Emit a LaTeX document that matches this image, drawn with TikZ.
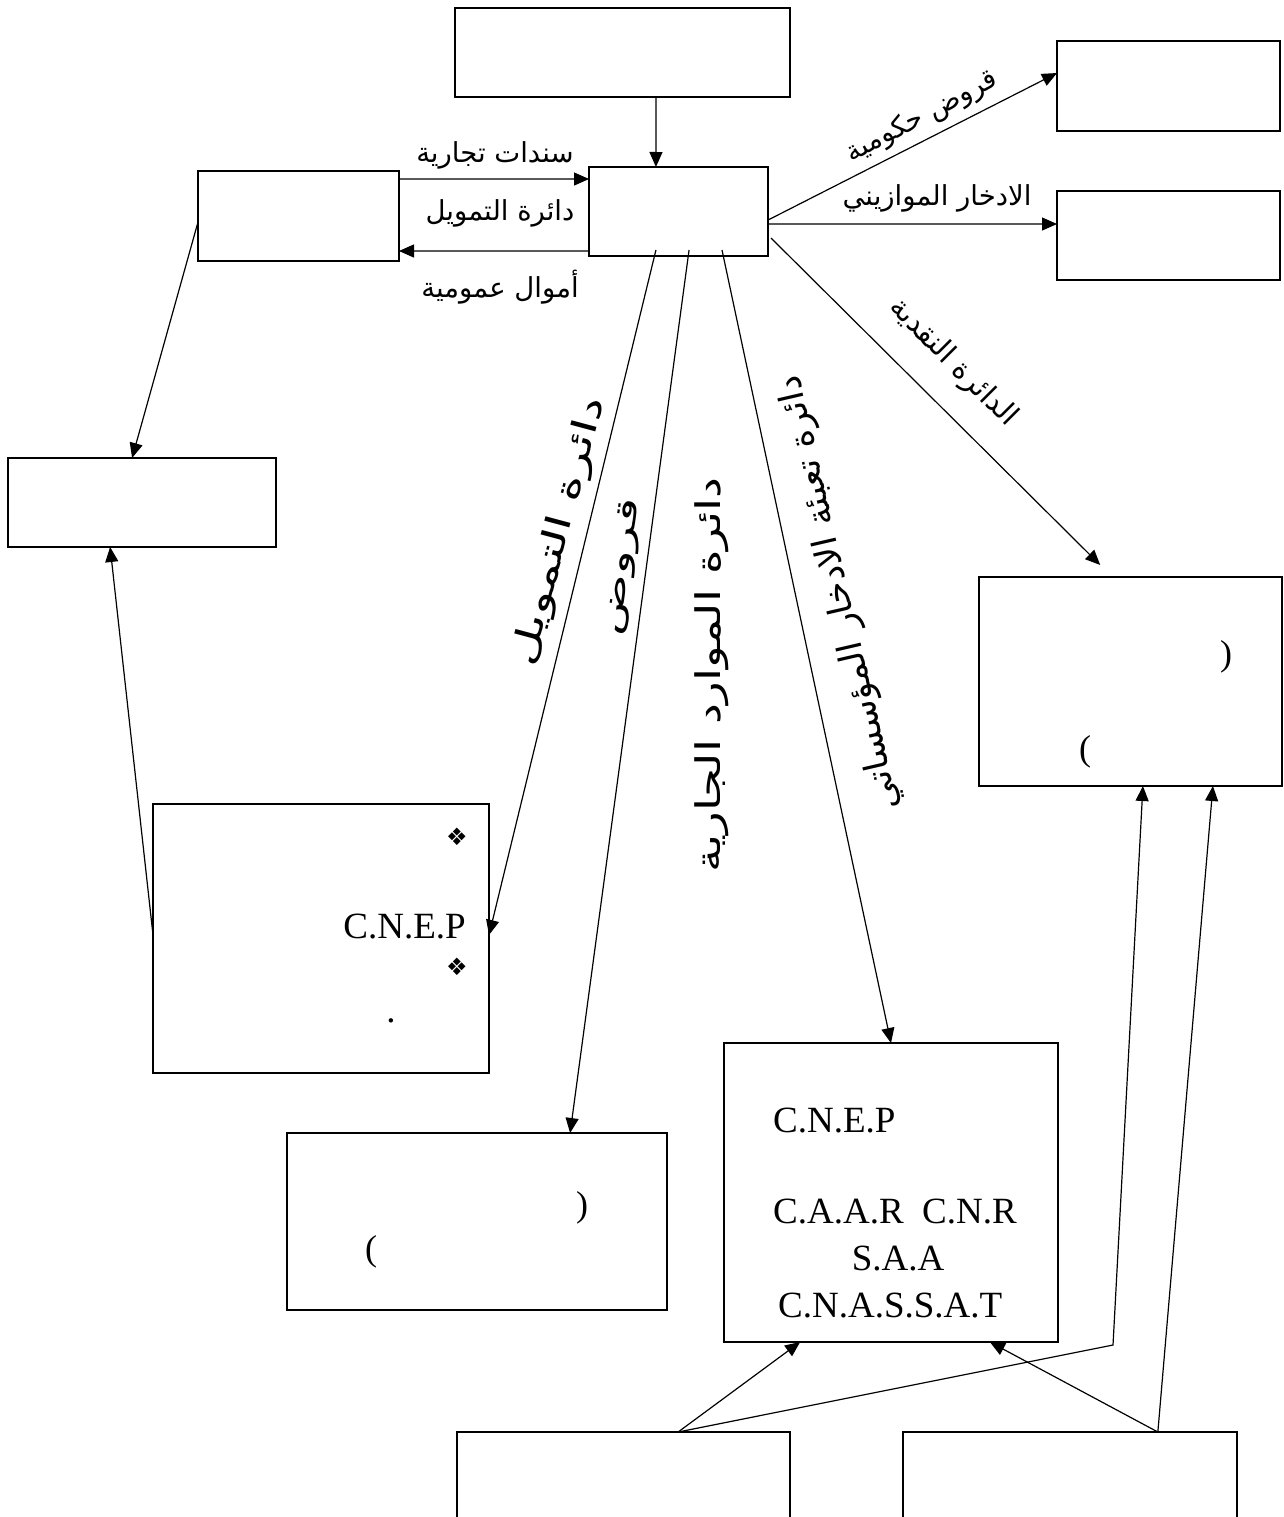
\documentclass[tikz,border=0pt]{standalone}
\usepackage{fontspec}
\setmainfont{Liberation Serif}
\newfontfamily\arabicfont[Script=Arabic]{DejaVu Sans}
\newfontfamily\symbfont{DejaVu Sans}
\TeXXeTstate=1
\usetikzlibrary{arrows.meta,calc}
\newcommand{\arabtext}[1]{\arabicfont\beginR #1\endR}
\tikzset{
  box/.style={draw, line width=1.3pt, anchor=north west, inner sep=0pt, outer sep=0pt},
  conn/.style={line width=1.2pt},
  arr/.style={conn, -{Triangle[length=15pt,width=13pt]}},
  hlbl/.style={inner sep=0pt, font=\fontsize{27.5}{30}\selectfont},
  dlbl/.style={inner sep=0pt, font=\fontsize{29}{32}\selectfont},
  vlbl/.style={inner sep=0pt, font=\fontsize{34}{38}\selectfont},
  slbl/.style={inner sep=0pt, font=\fontsize{30}{34}\selectfont},
  latin/.style={inner sep=0pt, font=\fontsize{37}{40}\selectfont},
  paren/.style={inner sep=0pt, font=\fontsize{36}{40}\selectfont},
  sym/.style={inner sep=0pt, font=\symbfont\fontsize{24}{26}\selectfont}
}
\begin{document}
\begin{tikzpicture}[x=1pt,y=-1pt]
\useasboundingbox (0,0) rectangle (1283,1517);
\clip (0,0) rectangle (1283,1517);
\fill[white] (0,0) rectangle (1283,1517);
% boxes
\node[box, minimum width=335pt, minimum height=89pt] (T) at (455,8) {};
\node[box, minimum width=179pt, minimum height=89pt] (C0) at (589,167) {};
\node[box, minimum width=201pt, minimum height=90pt] (L1) at (198,171) {};
\node[box, minimum width=268pt, minimum height=89pt] (L2) at (8,458) {};
\node[box, minimum width=223pt, minimum height=90pt] (R1) at (1057,41) {};
\node[box, minimum width=223pt, minimum height=89pt] (R2) at (1057,191) {};
\node[box, minimum width=303pt, minimum height=209pt] (R3) at (979,577) {};
\node[box, minimum width=336pt, minimum height=269pt] (N) at (153,804) {};
\node[box, minimum width=380pt, minimum height=177pt] (M) at (287,1133) {};
\node[box, minimum width=334pt, minimum height=299pt] (C) at (724,1043) {};
\node[box, minimum width=333pt, minimum height=130pt] (B1) at (457,1432) {};
\node[box, minimum width=334pt, minimum height=130pt] (B2) at (903,1432) {};
% attachment points
\coordinate (tA) at ($(T.south west)!0.6!(T.south east)$);
\coordinate (c0A) at ($(C0.north west)!0.374!(C0.north east)$);
\coordinate (l1E1) at ($(L1.north east)!0.089!(L1.south east)$);
\coordinate (c0W1) at ($(C0.north west)!0.135!(C0.south west)$);
\coordinate (c0W2) at ($(C0.north west)!0.944!(C0.south west)$);
\coordinate (l1E2) at ($(L1.north east)!0.889!(L1.south east)$);
\coordinate (l1W) at ($(L1.north west)!0.567!(L1.south west)$);
\coordinate (l2N) at ($(L2.north west)!0.463!(L2.north east)$);
\coordinate (nW) at ($(N.north west)!0.487!(N.south west)$);
\coordinate (l2S) at ($(L2.south west)!0.381!(L2.south east)$);
\coordinate (c0S1) at ($(C0.south west)!0.374!(C0.south east)+(0,-6)$);
\coordinate (c0S2) at ($(C0.south west)!0.559!(C0.south east)+(0,-6)$);
\coordinate (c0S3) at ($(C0.south west)!0.743!(C0.south east)+(0,-6)$);
\coordinate (nE) at ($(N.north east)!0.487!(N.south east)$);
\coordinate (mN) at ($(M.north west)!0.745!(M.north east)$);
\coordinate (cN) at ($(C.north west)!0.5!(C.north east)$);
\coordinate (c0E1) at ($(C0.north east)!0.596!(C0.south east)$);
\coordinate (r1W) at ($(R1.north west)!0.356!(R1.south west)$);
\coordinate (c0E2) at ($(C0.north east)!0.64!(C0.south east)$);
\coordinate (r2W) at ($(R2.north west)!0.371!(R2.south west)$);
\coordinate (c0E3) at ($(C0.north east)!0.798!(C0.south east)+(3,0)$);
\coordinate (r3N) at ($(R3.north west)!0.4!(R3.north east)+(0,-12)$);
\coordinate (b1N) at ($(B1.north west)!0.664!(B1.north east)$);
\coordinate (b2N) at ($(B2.north west)!0.763!(B2.north east)$);
\coordinate (cS1) at ($(C.south west)!0.228!(C.south east)$);
\coordinate (cS2) at ($(C.south west)!0.796!(C.south east)$);
\coordinate (r3S1) at ($(R3.south west)!0.541!(R3.south east)$);
\coordinate (r3S2) at ($(R3.south west)!0.772!(R3.south east)$);
\coordinate (bend) at (1113,1345);
% connectors
\draw[arr] (tA) -- (c0A);
\draw[arr] (l1E1) -- (c0W1);
\draw[arr] (c0W2) -- (l1E2);
\draw[arr] (l1W) -- (l2N);
\draw[arr] (nW) -- (l2S);
\draw[arr] (c0S1) -- (nE);
\draw[arr] (c0S2) -- (mN);
\draw[arr] (c0S3) -- (cN);
\draw[arr] (c0E1) -- (r1W);
\draw[arr] (c0E2) -- (r2W);
\draw[arr] (c0E3) -- (r3N);
\draw[arr] (b1N) -- (cS1);
\draw[arr] (b1N) -- (bend) -- (r3S1);
\draw[arr] (b2N) -- (cS2);
\draw[arr] (b2N) -- (r3S2);
% horizontal labels
\node[hlbl] (h1) at (495,155) {\arabicfont\beginR سندات تجارية\endR};
\node[hlbl] (h2) at (500,213) {\arabicfont\beginR دائرة التمويل\endR};
\node[hlbl] (h3) at (500,287) {\arabicfont\beginR أموال عمومية\endR};
\node[hlbl, rotate=28] (h4) at (922,117) {\arabicfont\beginR قروض حكومية\endR};
\node[hlbl] (h5) at (937,198) {\arabicfont\beginR الادخار الموازيني\endR};
\node[dlbl, rotate=-45] (h6) at (953,363) {\arabicfont\beginR الدائرة النقدية\endR};
% vertical labels
\node[vlbl, rotate=75] (v1) at (560,532) {\scalebox{1.5}[1]{\arabicfont\beginR دائرة التمويل\endR}};
\node[slbl, rotate=82] (v2) at (623,567) {\scalebox{1.7}[1]{\arabicfont\beginR قروض\endR}};
\node[vlbl, rotate=90] (v3) at (712,675) {\scalebox{1.38}[1]{\arabicfont\beginR دائرة الموارد الجارية\endR}};
\node[vlbl, rotate=103] (v4) at (840,593) {\scalebox{1.05}[1]{\arabicfont\beginR دائرة تعبئة الادخار المؤسساتي\endR}};
% box contents
\node[paren] (p1) at (1226,657) {)};
\node[paren] (p2) at (1085,752) {(};
\node[paren] (p3) at (582,1208) {)};
\node[paren] (p4) at (371,1252) {(};
\node[sym] (s1) at (457,837) {❖};
\node[sym] (s2) at (457,967) {❖};
\node[latin, anchor=base east] (n1) at (466,938) {C.N.E.P};
\node[latin, anchor=base] (n2) at (391,1022) {.};
\node[latin, anchor=base west] (c1) at (773,1132) {C.N.E.P};
\node[latin, anchor=base west] (c2) at (773,1223) {C.A.A.R\ \ C.N.R};
\node[latin, anchor=base] (c3) at (898,1270) {S.A.A};
\node[latin, anchor=base west] (c4) at (778,1317) {C.N.A.S.S.A.T};
\end{tikzpicture}
\end{document}
